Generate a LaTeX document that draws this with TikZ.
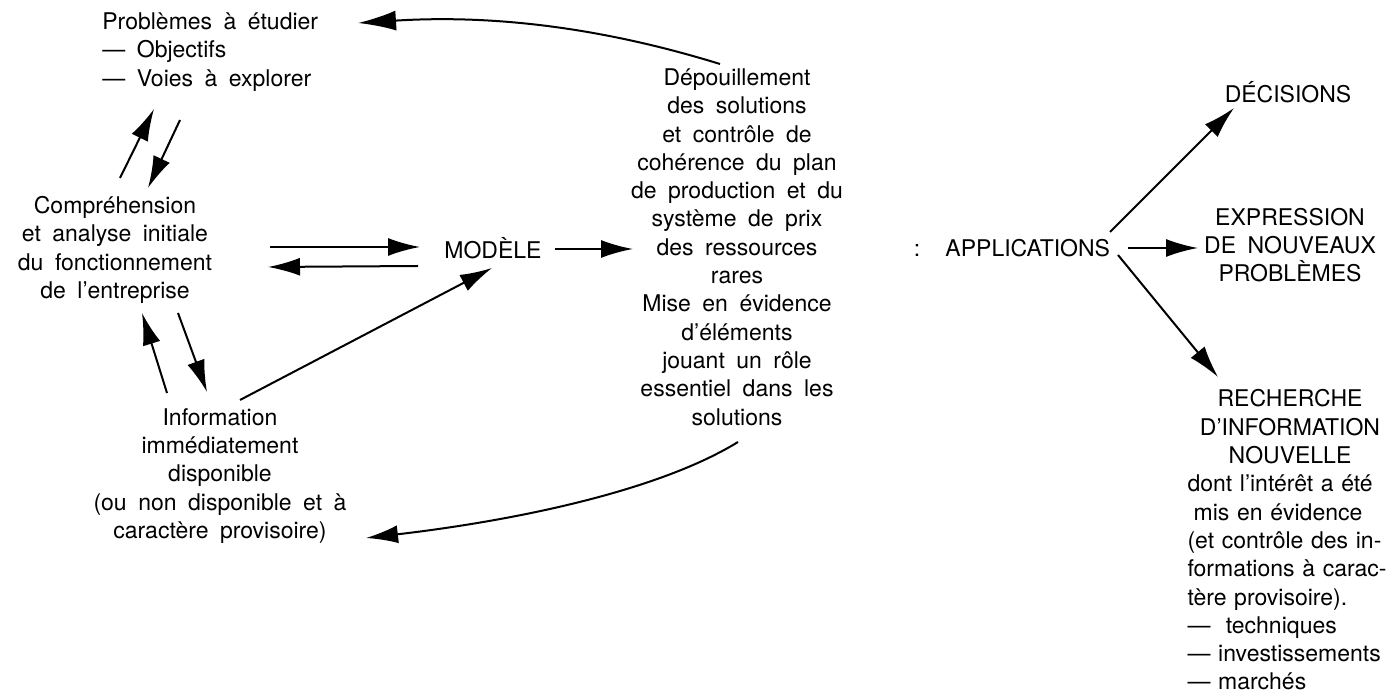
\documentclass[tikz,border=0pt]{standalone}
\usepackage{fontspec}
\setmainfont{TeX Gyre Heros}[WordSpace=1.8]
\usetikzlibrary{arrows.meta}
\newcommand{\jline}[1]{\makebox[\linewidth][s]{#1}}
\newcommand{\lline}[1]{\makebox[\linewidth][l]{#1}}

\begin{document}
\begin{tikzpicture}[x=0.5pt, y=-0.5pt,
  txt/.style={inner sep=0pt, align=center, font=\fontsize{11.5}{14.15}\selectfont},
  arr/.style={-{Latex[length=16pt,width=9pt]}, line width=1pt},
  bigarr/.style={-{Latex[length=19pt,width=10pt]}, line width=1pt}]
  \useasboundingbox (0,0) rectangle (1398,694);

  % left column
  \node[txt, align=left, anchor=west] (prob) at (102,52) {Problèmes à étudier\\— Objectifs\\— Voies à explorer};
  \node[txt] (comp) at (115,250) {Compréhension\\et analyse initiale\\du fonctionnement\\de l'entreprise};
  \node[txt] (info) at (220,476) {Information\\immédiatement\\disponible\\(ou non disponible et à\\caractère provisoire)};

  % centre
  \node[txt] (mod) at (493,248) {MODÈLE};
  \node[txt] (dep) at (737,247) {Dépouillement\\des solutions\\et contrôle de\\cohérence du plan\\de production et du\\système de prix\\des ressources\\rares\\Mise en évidence\\d'éléments\\jouant un rôle\\essentiel dans les\\solutions};

  % right column
  \node[txt] (app) at (1012,248) {: \ APPLICATIONS};
  \node[txt] (dec) at (1288,92) {DÉCISIONS};
  \node[txt] (expr) at (1290,245) {EXPRESSION\\DE NOUVEAUX\\PROBLÈMES};
  \node[txt, text width=102.5pt] (rech) at (1290,540) {RECHERCHE\\D'INFORMATION\\NOUVELLE\\
    \jline{dont l'intérêt a été}\\\makebox[0.94\linewidth][s]{mis en évidence}\\\jline{(et contrôle des in-}\\
    \jline{formations à carac-}\\\lline{tère provisoire).}\\\lline{— \ techniques}\\
    \lline{— investissements}\\\lline{— marchés}};

  % connectors
  \draw[arr] ([shift={(5,-72)}]comp.center) -- ([shift={(52,57)}]prob.west);
  \draw[arr] ([shift={(78,68)}]prob.west) -- ([shift={(33,-62)}]comp.center);
  \draw[arr] ([shift={(155,-3)}]comp.center) -- ([shift={(-73,-1)}]mod.center);
  \draw[arr] ([shift={(-75,18)}]mod.center) -- ([shift={(153,17)}]comp.center);
  \draw[arr] ([shift={(-53,-83)}]info.center) -- ([shift={(27,63)}]comp.center);
  \draw[arr] ([shift={(63,63)}]comp.center) -- ([shift={(-13,-84)}]info.center);
  \draw[arr] ([shift={(20,-76)}]info.center) -- ([shift={(-1,20)}]mod.center);
  \draw[arr] ([shift={(62,1)}]mod.center) -- ([shift={(-104,2)}]dep.center);
  \draw[bigarr] ([shift={(-17,-183)}]dep.center) .. controls +(-110,-34) and +(142,-9) .. ([shift={(256,-29)}]prob.west);
  \draw[arr] ([shift={(1,195)}]dep.center) .. controls +(-78,48) and +(154,-18) .. ([shift={(146,62)}]info.center);
  \draw[arr] ([shift={(98,-16)}]app.center) -- ([shift={(-54,16)}]dec.center);
  \draw[arr] ([shift={(116,0)}]app.center) -- ([shift={(-92,3)}]expr.center);
  \draw[arr] ([shift={(106,7)}]app.center) -- ([shift={(-72,-163)}]rech.center);
\end{tikzpicture}
\end{document}
